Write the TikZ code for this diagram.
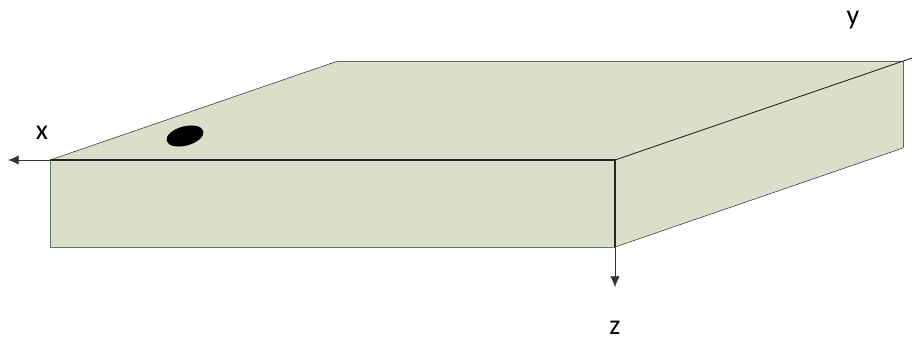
\documentclass[tikz,border=0pt]{standalone}
\usepackage{fontspec}
\setmainfont{Carlito}
\usetikzlibrary{arrows.meta,positioning,shapes.geometric}
\definecolor{slabfill}{RGB}{219,222,200}
\definecolor{slabedge}{RGB}{95,125,100}

\begin{document}
\begin{tikzpicture}[x=0.75pt, y=-0.75pt, every node/.style={outer sep=0pt},
    axislabel/.style={font=\fontsize{21}{25}\selectfont, inner sep=1pt},
    axisline/.style={-{Latex[length=8pt,width=7pt]}, line width=0.6pt, black!80}]
    \useasboundingbox (0,0) rectangle (912,340);

    % Corners of the slab
    \coordinate (fl) at (50,160);
    \coordinate (fr) at (615,160);
    \coordinate (bl) at (50,247);
    \coordinate (br) at (615,247);
    \coordinate (tl) at (338,61);
    \coordinate (tr) at (903,61);
    \coordinate (rb) at (903,148);

    % Faces
    \fill[slabfill] (fl) -- (tl) -- (tr) -- (fr) -- cycle;
    \fill[slabfill] (fr) -- (tr) -- (rb) -- (br) -- cycle;
    \fill[slabfill] (fl) rectangle (br);

    % Edges
    \draw[slabedge] (fr) -- (br) -- (bl) -- (fl);
    \draw[black!60] (tl) -- (tr) -- (rb);
    \draw[black!80] (fl) -- (tl);
    \draw[black!80] (rb) -- (br);
    \draw[black!85, thick] (fl) -- (fr) -- (br);

    % Hole on the top face
    \node[draw, ellipse, fill=black, minimum width=28pt, minimum height=14pt,
          rotate=15, inner sep=0pt] (hole) at (185,136) {};

    % Axes
    \coordinate (xend) at (8,160);
    \coordinate (yend) at (912,58);
    \coordinate (zend) at (615,287);
    \draw[axisline] (fl) -- (xend);
    \draw[black!90, semithick] (fr) -- (yend);
    \draw[axisline] (br) -- (zend);

    % Labels
    \node[axislabel] (xlab) at (42,133) {x};
    \node[axislabel] (ylab) at (853,20) {y};
    \node[axislabel] (zlab) at (615,328) {z};
\end{tikzpicture}
\end{document}
